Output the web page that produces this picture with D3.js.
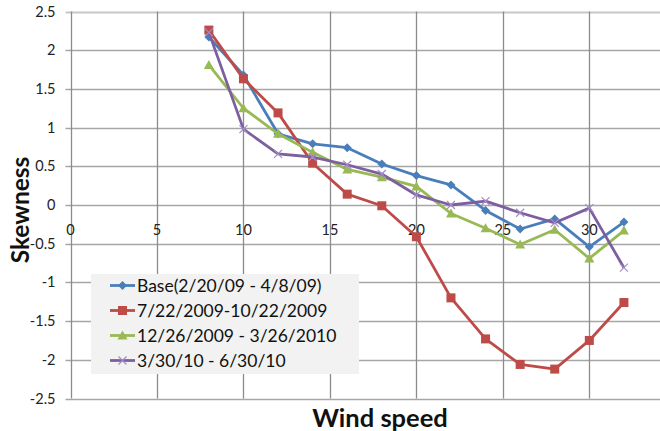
<!DOCTYPE html>
<html>
<head>
<meta charset="utf-8">
<script src="https://cdn.jsdelivr.net/npm/d3@7"></script>
<style>
  html, body { margin: 0; padding: 0; background: #fff; overflow: hidden; }
  svg { display: block; font-family: Lato, "Open Sans", sans-serif; }
</style>
</head>
<body>
<svg id="chart" width="660" height="431"></svg>
<script>
// Wind speed bins (x) shared by all periods
const windSpeed = [8, 10, 12, 14, 16, 18, 20, 22, 24, 26, 28, 30, 32];

// Skewness per period
const seriesNames = [
  "Base(2/20/09 - 4/8/09)",
  "7/22/2009-10/22/2009",
  "12/26/2009 - 3/26/2010",
  "3/30/10 - 6/30/10"
];
const baseValues   = [2.17, 1.68, 0.92, 0.79, 0.74, 0.53, 0.38, 0.26, -0.07, -0.31, -0.18, -0.54, -0.22];
const julOctValues = [2.26, 1.63, 1.19, 0.54, 0.14, -0.01, -0.41, -1.20, -1.73, -2.06, -2.12, -1.75, -1.26];
const decMarValues = [1.81, 1.25, 0.92, 0.68, 0.46, 0.36, 0.24, -0.11, -0.30, -0.51, -0.32, -0.69, -0.33];
const marJunValues = [2.23, 0.98, 0.66, 0.62, 0.52, 0.40, 0.13, 0.00, 0.05, -0.10, -0.23, -0.04, -0.81];

const xTicks = [0, 5, 10, 15, 20, 25, 30, 35];
const yTicks = [2.5, 2, 1.5, 1, 0.5, 0, -0.5, -1, -1.5, -2, -2.5];

const colors  = ["#4a7ebb", "#be4b48", "#98b954", "#7d5fa0"];
const markers = ["diamond", "square", "triangle", "cross"];
const allValues = [baseValues, julOctValues, decMarValues, marJunValues];

const W = 660;
const svg = d3.select("#chart");

// the plot area runs past the right edge of the page
const x = d3.scaleLinear().domain([0, 35]).range([70.5, 675.8]);
const y = d3.scaleLinear().domain([-2.5, 2.5]).range([398.5, 11.5]);

// horizontal gridlines
svg.append("g").selectAll("line")
  .data(yTicks)
  .join("line")
  .attr("x1", x(0) - 5).attr("x2", W)
  .attr("y1", d => Math.round(y(d)) + 0.5).attr("y2", d => Math.round(y(d)) + 0.5)
  .attr("stroke", d => d === 2.5 ? "#c8c8c8" : "#a6a6a6")
  .attr("stroke-width", d => d === 2.5 ? 2 : 1.4);

// vertical gridlines
svg.append("g").selectAll("line")
  .data(xTicks.filter(d => d > 0 && x(d) < W))
  .join("line")
  .attr("x1", d => Math.round(x(d)) + 0.5).attr("x2", d => Math.round(x(d)) + 0.5)
  .attr("y1", y(2.5)).attr("y2", y(-2.5))
  .attr("stroke", "#8c8c8c")
  .attr("stroke-width", 1.3);

// value axis line
svg.append("line")
  .attr("x1", Math.round(x(0)) + 0.5).attr("x2", Math.round(x(0)) + 0.5)
  .attr("y1", y(2.5)).attr("y2", y(-2.5))
  .attr("stroke", "#8c8c8c").attr("stroke-width", 1.3);

// y tick labels
svg.append("g").selectAll("text")
  .data(yTicks)
  .join("text")
  .attr("x", x(0) - 15)
  .attr("y", d => y(d) + 5)
  .attr("text-anchor", "end")
  .attr("font-size", 14.5)
  .attr("fill", "#222")
  .text(d => d);

// x tick labels sit just below the zero line (only those inside the page)
svg.append("g").selectAll("text")
  .data(xTicks.filter(d => x(d) + 10 < W))
  .join("text")
  .attr("x", d => x(d))
  .attr("y", y(0) + 30)
  .attr("text-anchor", "middle")
  .attr("font-size", 14.5)
  .attr("fill", "#222")
  .text(d => d);

// marker symbols
function drawMarker(g, kind, color) {
  if (kind === "diamond") {
    g.append("path").attr("d", "M0,-4.5L4.5,0L0,4.5L-4.5,0Z").attr("fill", color);
  } else if (kind === "square") {
    g.append("rect").attr("x", -4.5).attr("y", -4.5).attr("width", 9).attr("height", 9).attr("fill", color);
  } else if (kind === "triangle") {
    g.append("path").attr("d", "M0,-5L5,4L-5,4Z").attr("fill", color);
  } else {
    g.append("path").attr("d", "M-4,-4L4,4M-4,4L4,-4")
      .attr("stroke", "#a48cc4").attr("stroke-width", 1.2).attr("fill", "none");
  }
}

const line = d3.line().x((d, i) => x(windSpeed[i])).y(d => y(d));

allValues.forEach((vals, s) => {
  const g = svg.append("g");
  g.append("path")
    .attr("d", line(vals))
    .attr("fill", "none")
    .attr("stroke", colors[s])
    .attr("stroke-width", 2.8)
    .attr("stroke-linejoin", "round");
  vals.forEach((v, i) => {
    const m = g.append("g").attr("transform", `translate(${x(windSpeed[i])},${y(v)})`);
    drawMarker(m, markers[s], colors[s]);
  });
});

// legend
const legend = svg.append("g");
legend.append("rect")
  .attr("x", 91).attr("y", 274).attr("width", 268).attr("height", 100)
  .attr("fill", "#f2f2f2");
seriesNames.forEach((name, s) => {
  const cy = 285.5 + s * 25;
  legend.append("line")
    .attr("x1", 110).attr("x2", 135).attr("y1", cy).attr("y2", cy)
    .attr("stroke", colors[s]).attr("stroke-width", 2.8);
  const m = legend.append("g").attr("transform", `translate(122.5,${cy})`);
  drawMarker(m, markers[s], colors[s]);
  legend.append("text")
    .attr("x", 137).attr("y", cy + 6)
    .attr("font-size", 17.5)
    .attr("fill", "#111")
    .text(name);
});

// axis titles
svg.append("text")
  .attr("transform", `translate(29,210) rotate(-90)`)
  .attr("text-anchor", "middle")
  .attr("font-size", 24.5)
  .attr("font-weight", "bold")
  .attr("fill", "#111")
  .text("Skewness");

svg.append("text")
  .attr("x", 380).attr("y", 427)
  .attr("text-anchor", "middle")
  .attr("font-size", 25.5)
  .attr("font-weight", "bold")
  .attr("fill", "#111")
  .text("Wind speed");
</script>
</body>
</html>
